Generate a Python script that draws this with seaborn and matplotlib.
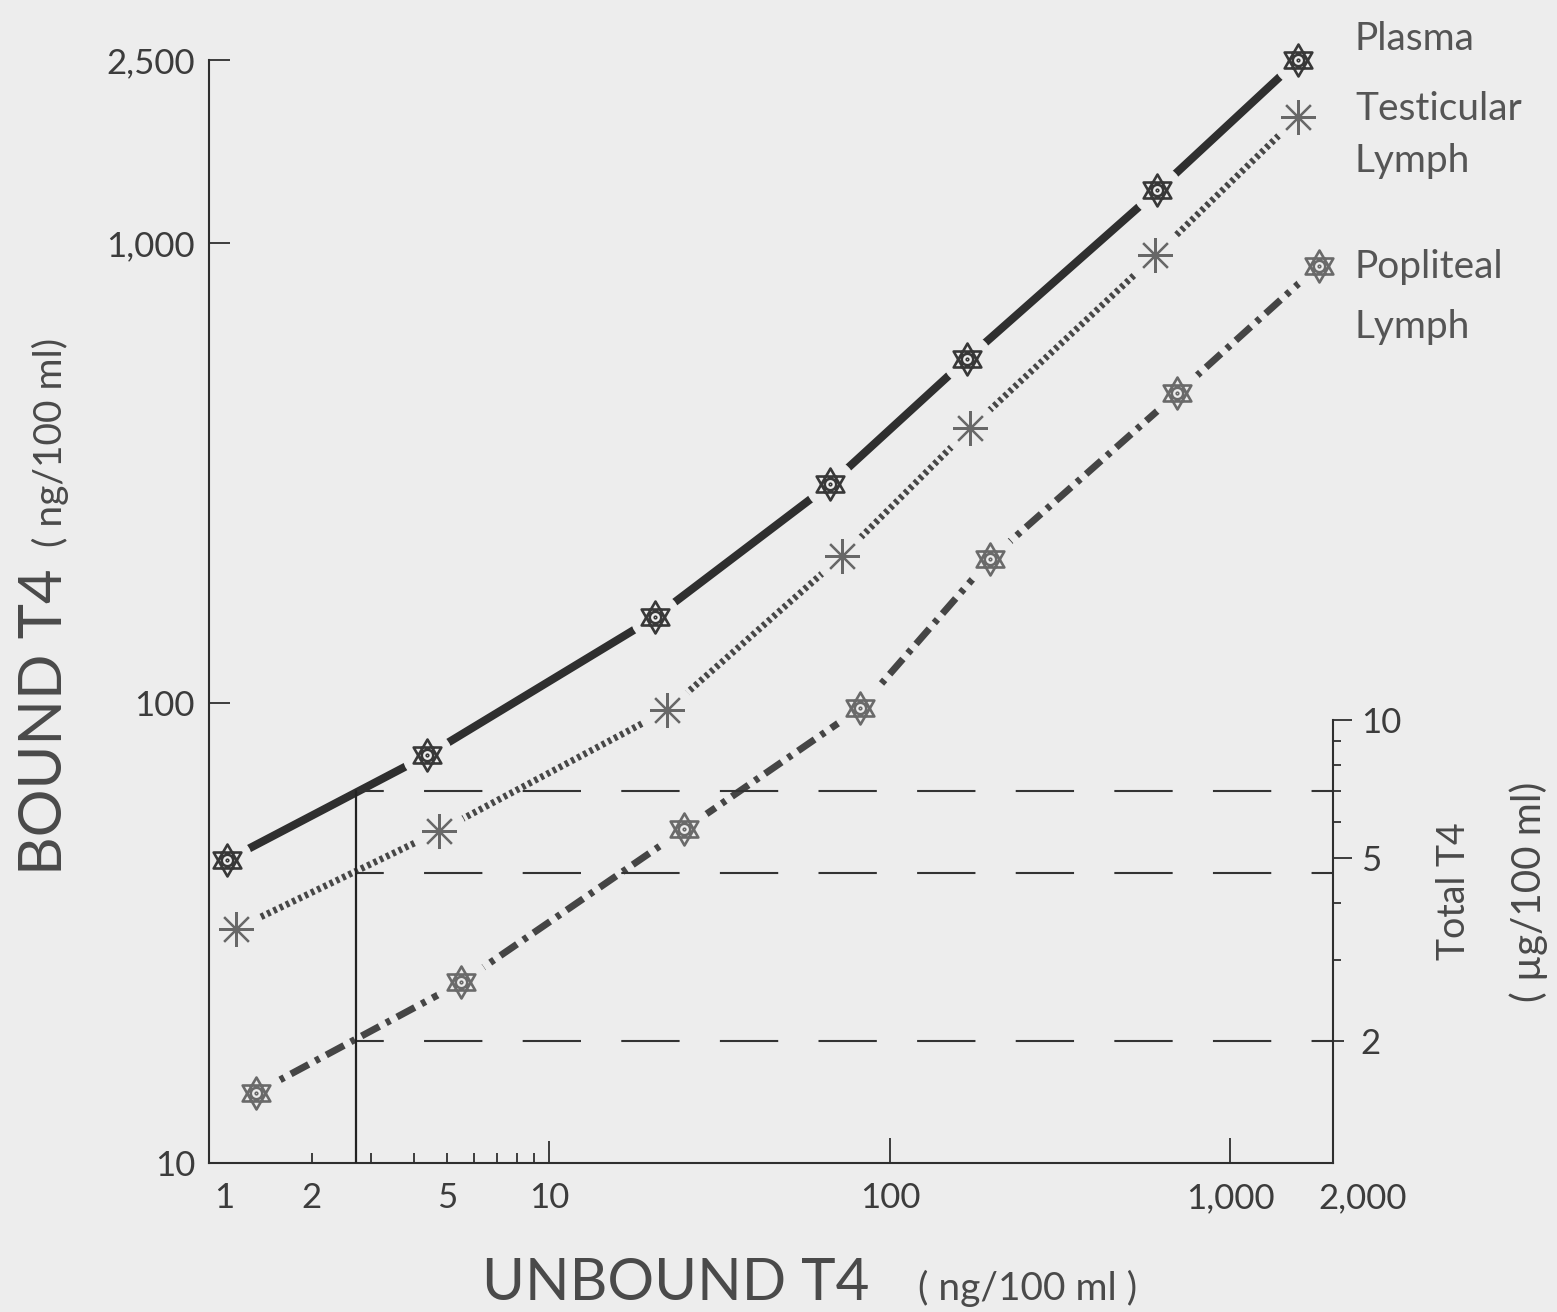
import matplotlib
matplotlib.use("Agg")
import numpy as np
import matplotlib.pyplot as plt
import matplotlib.transforms as mtransforms
from matplotlib.path import Path
from matplotlib.ticker import FixedLocator, NullFormatter
import seaborn as sns

# ---- data: unbound vs bound T4 (ng/100 ml) ----
plasma_unbound = [1.13, 4.38, 20.4, 66.6, 168, 610, 1574]
plasma_bound = [45.6, 77.1, 153.8, 299, 560, 1303, 2500]

testicular_unbound = [1.20, 4.75, 22.2, 72.3, 172, 602, 1574]
testicular_bound = [32.3, 52.7, 96.6, 209, 396, 942, 1880]

popliteal_unbound = [1.37, 5.51, 24.9, 81.6, 197, 698, 1815]
popliteal_bound = [14.2, 24.7, 53.2, 97.5, 206, 472, 895]

series_labels = ["Plasma", "Testicular\nLymph", "Popliteal\nLymph"]

# total T4 (ug/100 ml) read at a fixed unbound level
reference_unbound = 2.7
total_t4_levels = [7.0, 4.65, 2.0]
total_per_bound = 1 / 9.19

x_ticks = [1, 2, 5, 10, 100, 1000, 2000]
x_tick_labels = ["1", "2", "5", "10", "100", "1,000", "2,000"]
x_minor_ticks = [3, 4, 6, 7, 8, 9]
y_ticks = [10, 100, 1000, 2500]
y_tick_labels = ["10", "100", "1,000", "2,500"]
right_ticks = [2, 5, 10]
right_tick_labels = ["2", "5", "10"]
right_minor_ticks = [3, 4, 6, 7, 8, 9]

# ---- style ----
sns.set_theme(style="ticks")
plt.rcParams["font.family"] = ["Lato", "DejaVu Sans"]
plt.rcParams["lines.scale_dashes"] = False

BG = "#ededed"
INK = "#2f2f2f"
W, H = 1557, 1312


def fx(px):
    return px / W


def fy(py):
    return 1 - py / H


fig = plt.figure(figsize=(W / 100, H / 100), dpi=100, facecolor=BG)
ax = fig.add_axes([fx(209), fy(1163), (1333 - 209) / W, (1163 - 45) / H])
ax.set_facecolor("none")
ax.set_xscale("log")
ax.set_yscale("log")
ax.set_xlim(1, 2000)
ax.set_ylim(10, 2700)


def hexagram_marker():
    ang_up = np.radians([90, 210, 330])
    ang_dn = np.radians([270, 30, 150])
    up = [(np.cos(a), np.sin(a)) for a in ang_up] + [(0, 0)]
    dn = [(np.cos(a), np.sin(a)) for a in ang_dn] + [(0, 0)]
    codes = [Path.MOVETO, Path.LINETO, Path.LINETO, Path.CLOSEPOLY]
    star = Path(up + dn, codes * 2)
    ring = Path.circle((0, 0), 0.36)
    dot = Path.circle((0, 0), 0.05)
    return Path.make_compound_path(star, ring, dot)


HEX = hexagram_marker()

# ---- curves ----
sns.lineplot(x=plasma_unbound, y=plasma_bound, ax=ax, sort=False, estimator=None,
             color=INK, linewidth=5.8, solid_capstyle="butt", zorder=1.2)
sns.lineplot(x=testicular_unbound, y=testicular_bound, ax=ax, sort=False, estimator=None,
             color="#474747", linewidth=4.8, linestyle=(0, (2.5, 2.5)),
             dash_capstyle="butt", zorder=1.2)
sns.lineplot(x=popliteal_unbound, y=popliteal_bound, ax=ax, sort=False, estimator=None,
             color="#454545", linewidth=5.0, linestyle=(0, (14.5, 5.5, 3.4, 5.5)),
             dash_capstyle="butt", zorder=1.2)

# clear space around each marker (kept below the spines), then the markers
ax.plot(plasma_unbound, plasma_bound, "o", ms=35, color=BG, mec=BG, zorder=1.6, clip_on=False)
ax.plot(testicular_unbound, testicular_bound, "o", ms=38, color=BG, mec=BG, zorder=1.6, clip_on=False)
ax.plot(popliteal_unbound, popliteal_bound, "o", ms=38, color=BG, mec=BG, zorder=1.6, clip_on=False)

ax.plot(plasma_unbound, plasma_bound, linestyle="none", marker=HEX, ms=23,
        mfc="none", mec="#383838", mew=1.9, zorder=4, clip_on=False)
ax.plot(testicular_unbound, testicular_bound, linestyle="none", marker=(8, 2, 0), ms=25,
        mfc="none", mec="#686868", mew=1.6, zorder=4, clip_on=False)
ax.plot(popliteal_unbound, popliteal_bound, linestyle="none", marker=HEX, ms=23,
        mfc="none", mec="#6a6a6a", mew=1.9, zorder=4, clip_on=False)

# ---- left / bottom axes ----
for side in ("top", "right"):
    ax.spines[side].set_visible(False)
for side in ("left", "bottom"):
    ax.spines[side].set_color(INK)
    ax.spines[side].set_linewidth(1.5)
    ax.spines[side].set_zorder(2.5)
ax.spines["left"].set_bounds(10, 2500)
ax.spines["bottom"].set_bounds(1, 2000)

ax.xaxis.set_major_locator(FixedLocator(x_ticks))
ax.set_xticklabels(x_tick_labels)
ax.xaxis.set_minor_locator(FixedLocator(x_minor_ticks))
ax.xaxis.set_minor_formatter(NullFormatter())
ax.yaxis.set_major_locator(FixedLocator(y_ticks))
ax.set_yticklabels(y_tick_labels)
ax.yaxis.set_minor_locator(FixedLocator([]))

ax.tick_params(axis="x", which="major", direction="in", length=17, width=1.3,
               color=INK, pad=14, labelsize=25, labelcolor="#3c3c3c")
ax.tick_params(axis="x", which="minor", direction="in", length=7, width=1.3, color=INK)
ax.tick_params(axis="y", which="major", direction="in", length=15, width=1.3,
               color=INK, pad=10, labelsize=25, labelcolor="#3c3c3c")

x_len = {1: 0, 2: 7, 5: 7, 10: 16, 100: 18, 1000: 18, 2000: 0}
for val, tick in zip(x_ticks, ax.xaxis.get_major_ticks()):
    tick.tick1line.set_markersize(x_len[val])
for val, tick in zip(y_ticks, ax.yaxis.get_major_ticks()):
    if val == 10:
        tick.tick1line.set_markersize(0)

ax.set_xlabel("")
ax.set_ylabel("")

# ---- right axis: total T4 ----
ax2 = ax.twinx()
ax2.set_yscale("log")
ax2.set_ylim(10 * total_per_bound, 2700 * total_per_bound)
for side in ("top", "left", "bottom"):
    ax2.spines[side].set_visible(False)
ax2.spines["right"].set_color(INK)
ax2.spines["right"].set_linewidth(1.5)
ax2.spines["right"].set_bounds(10 * total_per_bound, 10)
ax2.yaxis.set_major_locator(FixedLocator(right_ticks))
ax2.set_yticklabels(right_tick_labels)
ax2.yaxis.set_minor_locator(FixedLocator(right_minor_ticks))
ax2.yaxis.set_minor_formatter(NullFormatter())
ax2.tick_params(axis="y", which="major", direction="out", length=14, width=1.3,
                color=INK, pad=6, labelsize=25, labelcolor="#3c3c3c")
ax2.tick_params(axis="y", which="minor", direction="out", length=6, width=1.3, color=INK)
for val, tick in zip(right_ticks, ax2.yaxis.get_major_ticks()):
    if val == 2:
        tick.tick2line.set_markersize(8)

# levels of total T4 at the reference unbound concentration
for lvl in total_t4_levels:
    ax2.plot([reference_unbound, 2000], [lvl, lvl], color="#333333", linewidth=1.5,
             linestyle=(22, (42, 29)), solid_capstyle="butt", zorder=1)
ax2.plot([reference_unbound, reference_unbound], [10 * total_per_bound, max(total_t4_levels)],
         color="#222222", linewidth=1.6, zorder=1)

# nudge the end labels of the x axis off the spines
offset_1 = mtransforms.ScaledTranslation(0.15, 0, fig.dpi_scale_trans)
offset_2000 = mtransforms.ScaledTranslation(0.30, 0, fig.dpi_scale_trans)
xt = ax.xaxis.get_major_ticks()
xt[0].label1.set_transform(xt[0].label1.get_transform() + offset_1)
xt[-1].label1.set_transform(xt[-1].label1.get_transform() + offset_2000)

# ---- axis titles ----
lab_col = "#4a4a4a"
fig.text(fx(62), fy(722), "BOUND T4", rotation=90, rotation_mode="anchor",
         ha="center", va="baseline", fontsize=43, color=lab_col)
fig.text(fx(62), fy(442), "( ng/100 ml)", rotation=90, rotation_mode="anchor",
         ha="center", va="baseline", fontsize=28, color=lab_col)
fig.text(fx(676), fy(1300), "UNBOUND T4", ha="center", va="baseline",
         fontsize=42, color=lab_col)
fig.text(fx(1028), fy(1300), "( ng/100 ml )", ha="center", va="baseline",
         fontsize=28, color=lab_col)
fig.text(fx(1465), fy(891), "Total T4", rotation=90, rotation_mode="anchor",
         ha="center", va="baseline", fontsize=27, color=lab_col)
fig.text(fx(1541), fy(892), "( µg/100 ml)", rotation=90, rotation_mode="anchor",
         ha="center", va="baseline", fontsize=29, color=lab_col)

# ---- series names beside the curve ends ----
name_col = "#555555"
fig.text(fx(1355), fy(50), series_labels[0], ha="left", va="baseline",
         fontsize=28, color=name_col)
t_lines = series_labels[1].split("\n")
fig.text(fx(1355), fy(120), t_lines[0], ha="left", va="baseline", fontsize=28, color=name_col)
fig.text(fx(1355), fy(172), t_lines[1], ha="left", va="baseline", fontsize=28, color=name_col)
p_lines = series_labels[2].split("\n")
fig.text(fx(1355), fy(278), p_lines[0], ha="left", va="baseline", fontsize=28, color=name_col)
fig.text(fx(1355), fy(338), p_lines[1], ha="left", va="baseline", fontsize=28, color=name_col)

fig.savefig("out.png", dpi=100, facecolor=BG)
